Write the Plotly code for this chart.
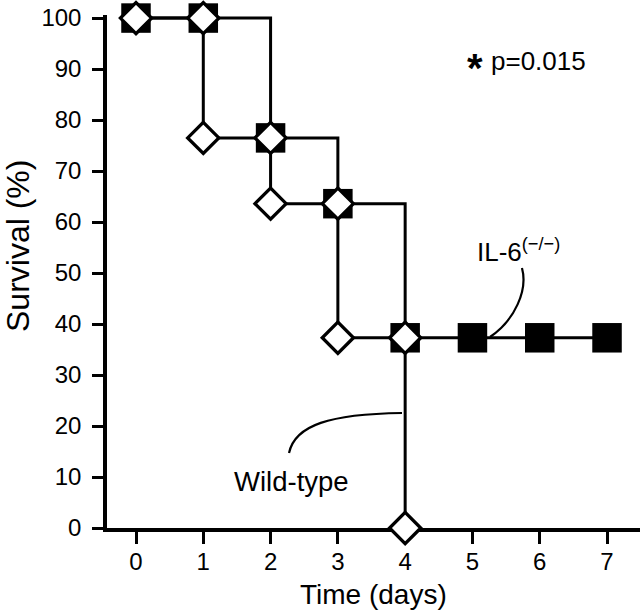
import plotly.graph_objects as go

# ---- data ----
days = [0, 1, 2, 3, 4, 5, 6, 7]
il6_survival = [100, 100, 76.5, 63.6, 37.3, 37.3, 37.3, 37.3]
wt_days = [0, 1, 2, 3, 4]
wt_survival = [100, 76.5, 63.6, 37.3, 0]
x_ticks = [0, 1, 2, 3, 4, 5, 6, 7]
y_ticks = [0, 10, 20, 30, 40, 50, 60, 70, 80, 90, 100]

# Wild-type markers sit at both corners of every drop
wt_x = [wt_days[0]]
wt_y = [wt_survival[0]]
for i in range(1, len(wt_days)):
    wt_x += [wt_days[i], wt_days[i]]
    wt_y += [wt_survival[i - 1], wt_survival[i]]

FONT = "Liberation Sans, Arial, Helvetica, sans-serif"

fig = go.Figure()
fig.add_trace(go.Scatter(
    x=days, y=il6_survival, mode="lines+markers", line_shape="hv",
    line=dict(color="black", width=3),
    marker=dict(symbol="square", size=29.5, color="black", line=dict(width=0)),
    cliponaxis=False, showlegend=False, name="IL-6(-/-)"))
fig.add_trace(go.Scatter(
    x=wt_x, y=wt_y, mode="lines+markers",
    line=dict(color="black", width=3),
    marker=dict(symbol="diamond", size=24, color="white",
                line=dict(color="black", width=3.3)),
    cliponaxis=False, showlegend=False, name="Wild-type"))

# leader curves
fig.add_shape(type="path", xref="x", yref="y",
              path="M 5.736,50.98 C 5.826,46.67 5.632,40.78 5.261,37.45",
              line=dict(color="black", width=2.2))
fig.add_shape(type="path", xref="x", yref="y",
              path="M 2.274,14.71 C 2.363,20.2 2.883,22.35 3.953,22.55",
              line=dict(color="black", width=2.2))

ann = []
ann.append(dict(x=4.89, y=91.4, xref="x", yref="y", text="<b>*</b>",
                showarrow=False, xanchor="left", yanchor="middle", yshift=-6,
                font=dict(family=FONT, size=40, color="black")))
ann.append(dict(x=5.24, y=91.6, xref="x", yref="y", text="p=0.015",
                showarrow=False, xanchor="left", yanchor="middle",
                font=dict(family=FONT, size=26, color="black")))
ann.append(dict(x=5.04, y=54.5, xref="x", yref="y",
                text="IL-6<sup>(\u2212/\u2212)</sup>",
                showarrow=False, xanchor="left", yanchor="middle",
                font=dict(family=FONT, size=26, color="black")))
ann.append(dict(x=2.311, y=9.2, xref="x", yref="y", text="Wild-type",
                showarrow=False, xanchor="center", yanchor="middle",
                font=dict(family=FONT, size=27.5, color="black")))
ann.append(dict(x=0, y=55.3, xref="paper", yref="y", text="Survival (%)",
                textangle=-90, showarrow=False, xanchor="center",
                yanchor="middle", xshift=-89, borderpad=0,
                font=dict(family=FONT, size=32, color="black")))
ann.append(dict(x=0.5, y=0, xref="paper", yref="paper", text="Time (days)",
                showarrow=False, xanchor="center", yanchor="middle",
                yshift=-66, font=dict(family=FONT, size=28, color="black")))

fig.update_layout(
    width=640, height=614,
    margin=dict(l=107, r=0, t=15, b=86, autoexpand=False),
    paper_bgcolor="white", plot_bgcolor="white",
    annotations=ann,
    font=dict(family=FONT, color="black"),
    xaxis=dict(range=[-0.431, 7.49], tickvals=x_ticks,
               ticktext=[str(v) for v in x_ticks], automargin=False,
               showgrid=False, zeroline=False, showline=True,
               linecolor="black", linewidth=3.5, ticks="outside",
               ticklen=12, tickwidth=2.5, tickcolor="black",
               tickfont=dict(family=FONT, size=24, color="black"),
               ticklabeloverflow="allow", ticklabelstandoff=-3,
               layer="below traces", fixedrange=True),
    yaxis=dict(range=[0, 100.6], tickvals=y_ticks,
               ticktext=[str(v) for v in y_ticks], automargin=False,
               showgrid=False, zeroline=False, showline=True,
               linecolor="black", linewidth=3.5, ticks="outside",
               ticklen=11, tickwidth=2.5, tickcolor="black",
               tickfont=dict(family=FONT, size=24, color="black"),
               ticklabeloverflow="allow", ticklabelstandoff=6,
               layer="below traces", fixedrange=True),
)

# place the figure at the very top-left corner of the page
fig.write_html("out.html", config={"displayModeBar": False},
               post_script="document.body.style.margin='0';"
                           "document.body.style.overflow='hidden';")
